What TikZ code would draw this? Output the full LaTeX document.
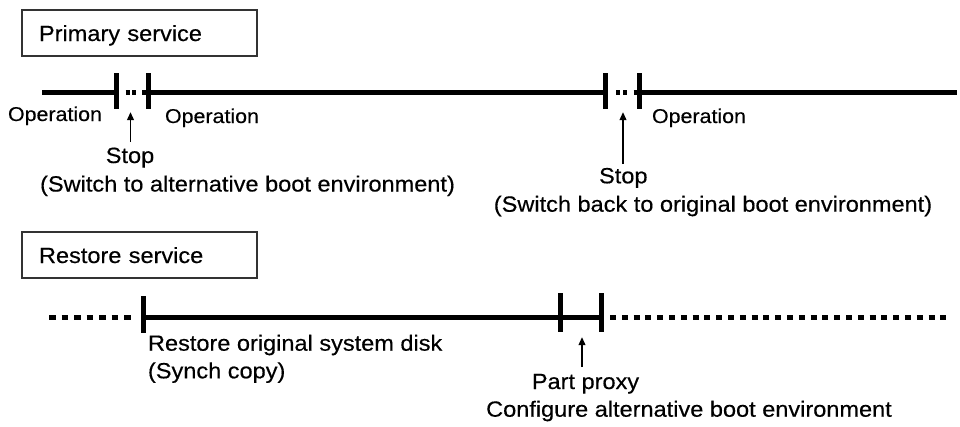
\documentclass[tikz,border=0pt]{standalone}
\usepackage{fontspec}
\setmainfont{Liberation Sans}[FakeStretch=1.07,FakeBold=0.4]
\usetikzlibrary{arrows.meta}
\begin{document}
\begin{tikzpicture}[x=1pt,y=-1pt,
  every node/.style={inner sep=0pt, outer sep=0pt},
  lbl/.style={font=\fontsize{22}{26}\selectfont, text=black},
  oplbl/.style={font=\fontsize{20}{24}\selectfont, text=black},
  titlebox/.style={draw=black!80, line width=1.3pt, anchor=north west,
    minimum width=235pt, minimum height=46pt, text width=201pt, inner xsep=17pt,
    text height=16pt, text depth=0pt, align=left,
    font=\fontsize{22}{26}\selectfont, text=black},
  timeline/.style={line width=5pt},
  dotline/.style={line width=5pt, dash pattern=on 6.5pt off 6pt},
  tickmark/.style={line width=5pt},
  arr/.style={line width=1.9pt, -{Triangle[length=8pt,width=6.5pt]}}
]
\useasboundingbox (0,0) rectangle (960,426);

% title boxes
\node[titlebox] (pbox) at (22,10) {Primary service};
\node[titlebox] (rbox) at (22,232) {Restore service};

% ---- primary timeline ----
\coordinate (tA) at (42,92);
\coordinate (t1) at (116.7,92);
\coordinate (t2) at (148,92);
\coordinate (t3) at (605,92);
\coordinate (t4) at (639.5,92);
\coordinate (tE) at (957,92);
\draw[timeline] (tA) -- (t1);
\draw[timeline] (t2) -- (t3);
\draw[timeline] (t4) -- (tE);
\draw[line width=5pt, dash pattern=on 0pt off 9pt on 4pt off 2.5pt on 4pt off 6pt on 10pt off 0pt] (t1) -- (t2);
\draw[line width=5pt, dash pattern=on 0pt off 11pt on 4pt off 3pt on 4pt off 6.5pt on 10pt off 0pt] (t3) -- (t4);
\foreach \t in {t1,t2,t3,t4} \draw[tickmark] (\t) ++(0,-19) -- ++(0,36);

% ---- restore timeline ----
\coordinate (bA) at (49,317);
\coordinate (bD) at (130.5,317);
\coordinate (b1) at (143,317);
\coordinate (b2) at (560,317);
\coordinate (b3) at (601,317);
\coordinate (bF) at (610,317);
\coordinate (bE) at (952,317);
\draw[dotline] (bA) -- (bD);
\draw[timeline] (b1) -- (b3);
\draw[line width=5pt, dash pattern=on 6pt off 5.8pt] (bF) -- (bE);
\draw[tickmark] (b1) ++(0,-21) -- ++(0,37);
\draw[tickmark] (b2) ++(0,-24) -- ++(0,39);
\draw[tickmark] (b3) ++(0,-24) -- ++(0,39);

% ---- labels ----
\node[oplbl, anchor=base west] (op1) at (8,121) {Operation};
\node[oplbl, anchor=base west] (op2) at (165,123) {Operation};
\node[oplbl, anchor=base west] (op3) at (652,123) {Operation};
\node[lbl, anchor=base] (stop1) at (130,163) {Stop};
\node[lbl, anchor=base] (sw1) at (247.5,191.5) {(Switch to alternative boot environment)};
\node[lbl, anchor=base] (stop2) at (623.3,183.3) {Stop};
\node[lbl, anchor=base] (sw2) at (713,211.7) {(Switch back to original boot environment)};
\node[lbl, anchor=base west] (rs1) at (148,350.7) {Restore original system disk};
\node[lbl, anchor=base west] (rs2) at (148,378.3) {(Synch copy)};
\node[lbl, anchor=base] (pp) at (585.5,389) {Part proxy};
\node[lbl, anchor=base] (cf) at (689,416.7) {Configure alternative boot environment};

% ---- arrows ----
\coordinate (a1s) at (130.5,142);
\coordinate (a1e) at (130.5,112);
\coordinate (a2s) at (623,164);
\coordinate (a2e) at (623,112);
\coordinate (a3s) at (582,367);
\coordinate (a3e) at (582,337);
\draw[arr] (a1s) -- (a1e);
\draw[arr] (a2s) -- (a2e);
\draw[arr] (a3s) -- (a3e);
\end{tikzpicture}
\end{document}
